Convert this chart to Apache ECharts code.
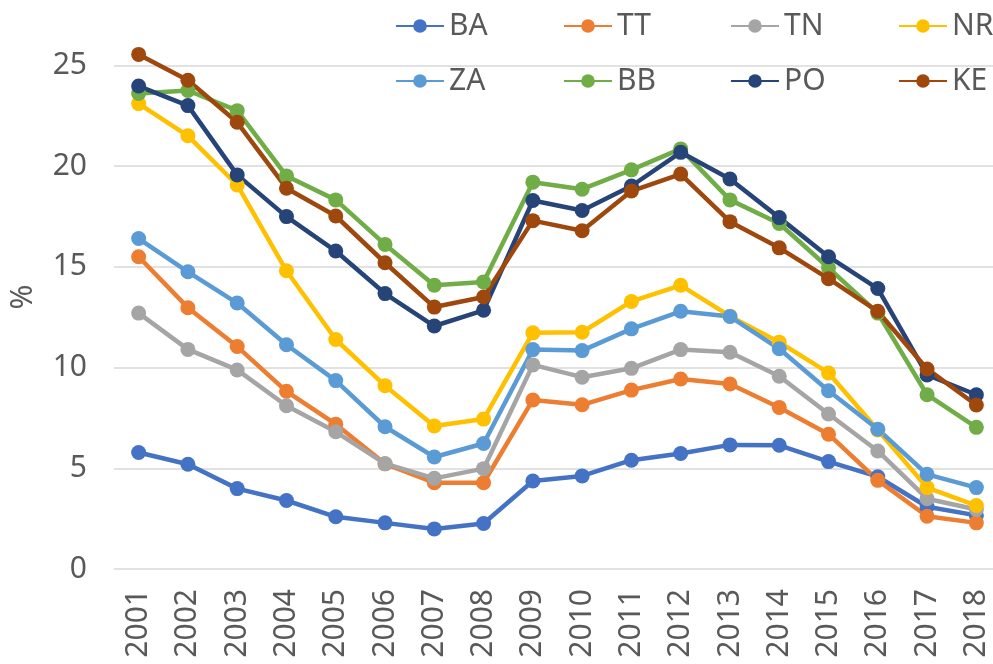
<!DOCTYPE html>
<html>
<head>
<meta charset="utf-8">
<script src="https://cdn.jsdelivr.net/npm/echarts@6/dist/echarts.min.js"></script>
<style>
  html, body { margin: 0; padding: 0; background: #fff; }
  #chart { width: 993px; height: 664px; }
</style>
</head>
<body>
<div id="chart"></div>
<script>
// data
const years = ['2001', '2002', '2003', '2004', '2005', '2006', '2007', '2008', '2009',
  '2010', '2011', '2012', '2013', '2014', '2015', '2016', '2017', '2018'];
const BA = [5.78, 5.2, 3.99, 3.4, 2.59, 2.29, 1.99, 2.26, 4.37, 4.62, 5.4, 5.73, 6.16, 6.14, 5.33, 4.58, 3.09, 2.66];
const TT = [15.5, 12.97, 11.04, 8.82, 7.19, 5.22, 4.28, 4.28, 8.39, 8.15, 8.88, 9.43, 9.18, 8.02, 6.69, 4.4, 2.62, 2.29];
const TN = [12.7, 10.9, 9.88, 8.1, 6.81, 5.23, 4.5, 4.98, 10.13, 9.52, 9.96, 10.89, 10.76, 9.57, 7.69, 5.86, 3.49, 2.95];
const NR = [23.1, 21.5, 19.06, 14.8, 11.39, 9.1, 7.1, 7.44, 11.72, 11.75, 13.28, 14.08, 12.55, 11.26, 9.73, 6.9, 4.04, 3.15];
const ZA = [16.4, 14.75, 13.2, 11.13, 9.35, 7.06, 5.56, 6.23, 10.89, 10.84, 11.92, 12.79, 12.53, 10.93, 8.85, 6.94, 4.7, 4.04];
const BB = [23.6, 23.75, 22.75, 19.51, 18.32, 16.11, 14.08, 14.25, 19.2, 18.85, 19.81, 20.85, 18.32, 17.15, 14.95, 12.7, 8.65, 7.03];
const PO = [23.97, 23.0, 19.56, 17.49, 15.78, 13.67, 12.06, 12.84, 18.29, 17.79, 19.01, 20.68, 19.36, 17.44, 15.5, 13.92, 9.63, 8.65];
const KE = [25.54, 24.26, 22.17, 18.9, 17.52, 15.2, 13.0, 13.5, 17.29, 16.79, 18.76, 19.6, 17.24, 15.94, 14.41, 12.79, 9.93, 8.14];

const names = ['BA', 'TT', 'TN', 'NR', 'ZA', 'BB', 'PO', 'KE'];
const values = [BA, TT, TN, NR, ZA, BB, PO, KE];
const colors = ['#4472C4', '#ED7D31', '#A5A5A5', '#FFC000', '#5B9BD5', '#70AD47', '#264478', '#9E480E'];

const font = '"Noto Sans", "Open Sans", sans-serif';
const textColor = '#595959';

// one legend per entry so the columns line up like the original (4 per row)
const legends = names.map((n, i) => ({
  data: [n],
  left: Math.round(390 + (i % 4) * 167.5),
  top: i < 4 ? 6 : 61,
  itemWidth: 48,
  itemHeight: 17,
  textStyle: { fontFamily: font, fontSize: 30, color: textColor }
}));

const chart = echarts.init(document.getElementById('chart'));
chart.setOption({
  animation: false,
  color: colors,
  legend: legends,
  grid: { left: 114, right: -8, top: 25, bottom: 95, outerBoundsMode: 'none' },
  xAxis: {
    type: 'category',
    data: years,
    boundaryGap: true,
    axisLine: { show: false },
    axisTick: { show: false },
    axisLabel: { rotate: 90, margin: 20, fontFamily: font, fontSize: 30, color: textColor }
  },
  yAxis: {
    type: 'value',
    min: 0,
    max: 27,
    interval: 5,
    name: '%',
    nameLocation: 'middle',
    nameGap: 76,
    nameTextStyle: { fontFamily: font, fontSize: 30, color: textColor },
    axisLine: { show: false },
    axisTick: { show: false },
    axisLabel: { margin: 27, showMaxLabel: false, fontFamily: font, fontSize: 30, color: textColor },
    splitLine: { showMaxLine: false, lineStyle: { color: '#D9D9D9', width: 1.5 } }
  },
  series: names.map((n, i) => ({
    name: n,
    type: 'line',
    data: values[i],
    symbol: 'circle',
    symbolSize: 15,
    lineStyle: { width: 4.5 },
    emphasis: { disabled: true }
  }))
});
</script>
</body>
</html>
